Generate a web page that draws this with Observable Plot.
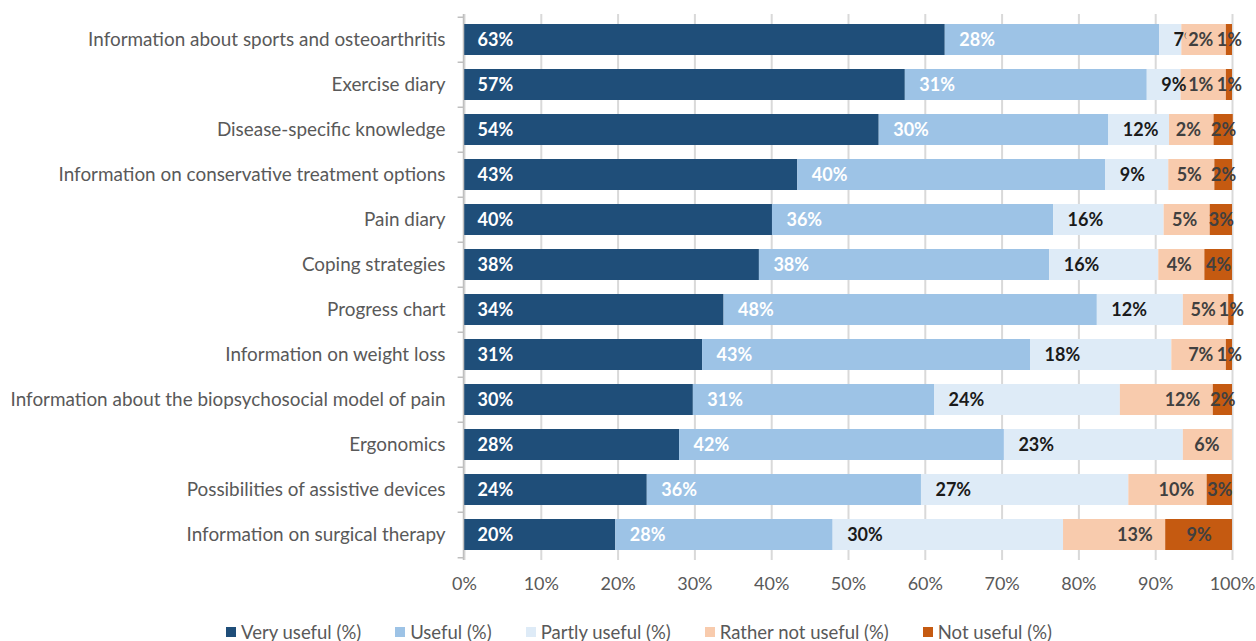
<!DOCTYPE html>
<html>
<head>
<meta charset="utf-8">
<script src="https://cdn.jsdelivr.net/npm/d3@7"></script>
<script src="https://cdn.jsdelivr.net/npm/@observablehq/plot@0.6"></script>
<style>
  html, body { margin: 0; padding: 0; background: #fff; }
  body { width: 1256px; height: 641px; overflow: hidden; font-family: Lato, "Open Sans", sans-serif; }
  #legend { display: flex; justify-content: center; gap: 34px; margin-top: 17px; margin-left: 22px; color: #595959; font-size: 18.5px; line-height: 20px; }
  #legend .item { display: flex; align-items: center; }
  #legend .sw { width: 10px; height: 10px; margin-right: 5px; }
</style>
</head>
<body>
<div id="chart"></div>
<div id="legend"></div>
<script>
const categories = [
  "Information about sports and osteoarthritis",
  "Exercise diary",
  "Disease-specific knowledge",
  "Information on conservative treatment options",
  "Pain diary",
  "Coping strategies",
  "Progress chart",
  "Information on weight loss",
  "Information about the biopsychosocial model of pain",
  "Ergonomics",
  "Possibilities of assistive devices",
  "Information on surgical therapy"
];
const seriesNames = ["Very useful (%)", "Useful (%)", "Partly useful (%)", "Rather not useful (%)", "Not useful (%)"];
const seriesColors = ["#1f4e79", "#9dc3e6", "#deebf7", "#f8cbad", "#c55a11"];

// segment lengths as drawn
const veryUseful   = [62.6, 57.4, 54.0, 43.4, 40.1, 38.4, 33.8, 31.0, 29.8, 28.0, 23.8, 19.7];
const useful       = [27.9, 31.5, 29.9, 40.1, 36.6, 37.8, 48.6, 42.7, 31.4, 42.3, 35.7, 28.3];
const partlyUseful = [ 2.9,  4.4,  7.9,  8.2, 14.4, 14.2, 11.2, 18.4, 24.2, 23.3, 27.0, 30.0];
const ratherNot    = [ 5.8,  5.9,  5.8,  6.0,  6.0,  6.0,  5.9,  7.1, 12.1,  6.4, 10.2, 13.3];
const notUseful    = [ 0.8,  0.8,  2.5,  2.3,  2.9,  3.6,  0.7,  0.8,  2.5,  0.0,  3.3,  8.7];

// data labels as printed
const veryLabels    = [63, 57, 54, 43, 40, 38, 34, 31, 30, 28, 24, 20];
const usefulLabels  = [28, 31, 30, 40, 36, 38, 48, 43, 31, 42, 36, 28];
const partlyLabels  = [7, 9, 12, 9, 16, 16, 12, 18, 24, 23, 27, 30];
const ratherLabels  = [2, 1, 2, 5, 5, 4, 5, 7, 12, 6, 10, 13];
const notLabels     = [1, 1, 2, 2, 3, 4, 1, 1, 2, null, 3, 9];

const xTicks = [0, 10, 20, 30, 40, 50, 60, 70, 80, 90, 100];

const values = [veryUseful, useful, partlyUseful, ratherNot, notUseful];
const labels = [veryLabels, usefulLabels, partlyLabels, ratherLabels, notLabels];

const data = [];
categories.forEach((c, i) => {
  seriesNames.forEach((s, k) => {
    data.push({cat: c, series: s, k, value: values[k][i], label: labels[k][i]});
  });
});

const lab = (k) => d => (d.k === k && d.label != null) ? `${d.label}%` : null;
const font = "Lato, 'Open Sans', sans-serif";
const stackOpts = {y: "cat", x: "value"};
const LF = 18;

const plot = Plot.plot({
  width: 1256,
  height: 605,
  marginLeft: 464,
  marginRight: 24,
  marginTop: 14,
  marginBottom: 45,
  style: {fontFamily: font, background: "#fff"},
  x: {domain: [0, 100]},
  y: {domain: categories, paddingInner: 0.32, paddingOuter: 0.16},
  color: {domain: seriesNames, range: seriesColors},
  marks: [
    Plot.gridX(xTicks, {stroke: "#d9d9d9", strokeOpacity: 1, strokeWidth: 2}),
    Plot.barX(data, Plot.stackX({...stackOpts, fill: "series"})),
    Plot.ruleX([0], {stroke: "#bfbfbf", strokeWidth: 1.5, dx: -1}),
    Plot.ruleY(categories, {y: d => d, x1: -0.7, x2: 0, dx: -1, dy: -22.75, stroke: "#bfbfbf", strokeWidth: 1.5}),
    Plot.ruleY(categories.slice(-1), {y: d => d, x1: -0.7, x2: 0, dx: -1, dy: 22.75, stroke: "#bfbfbf", strokeWidth: 1.5}),
    Plot.axisY({tickSize: 0, tickPadding: 19, fontSize: 18.9, fill: "#595959", label: null}),
    Plot.axisX(xTicks, {tickSize: 0, tickPadding: 17, fontSize: 18, fill: "#595959", label: null, tickFormat: d => `${d}%`}),
    // Very useful: inside base, white
    Plot.text(data, Plot.stackX1({...stackOpts, text: lab(0), textAnchor: "start", dx: 13, fill: "white", fontWeight: "bold", fontSize: LF})),
    // Useful: inside base, white
    Plot.text(data, Plot.stackX1({...stackOpts, text: lab(1), textAnchor: "start", dx: 14, fill: "white", fontWeight: "bold", fontSize: LF})),
    // Partly useful: inside base, black
    Plot.text(data, Plot.stackX1({...stackOpts, text: lab(2), textAnchor: "start", dx: 14, fill: "#1a1a1a", fontWeight: "bold", fontSize: LF})),
    // Rather not useful: inside end, dark gray with box-like halo
    Plot.text(data, Plot.stackX2({...stackOpts, text: lab(3), textAnchor: "end", dx: -13, fill: "#404040", fontWeight: "bold", fontSize: LF, stroke: "#f8cbad", strokeWidth: 8, paintOrder: "stroke"})),
    // Not useful: centered
    Plot.text(data, Plot.stackX({...stackOpts, text: lab(4), textAnchor: "middle", fill: "#404040", fontWeight: "bold", fontSize: LF}))
  ]
});
document.getElementById("chart").appendChild(plot);

const legend = document.getElementById("legend");
seriesNames.forEach((s, k) => {
  const it = document.createElement("div");
  it.className = "item";
  const sw = document.createElement("span");
  sw.className = "sw";
  sw.style.background = seriesColors[k];
  const tx = document.createElement("span");
  tx.textContent = s;
  it.appendChild(sw); it.appendChild(tx);
  legend.appendChild(it);
});
</script>
</body>
</html>
